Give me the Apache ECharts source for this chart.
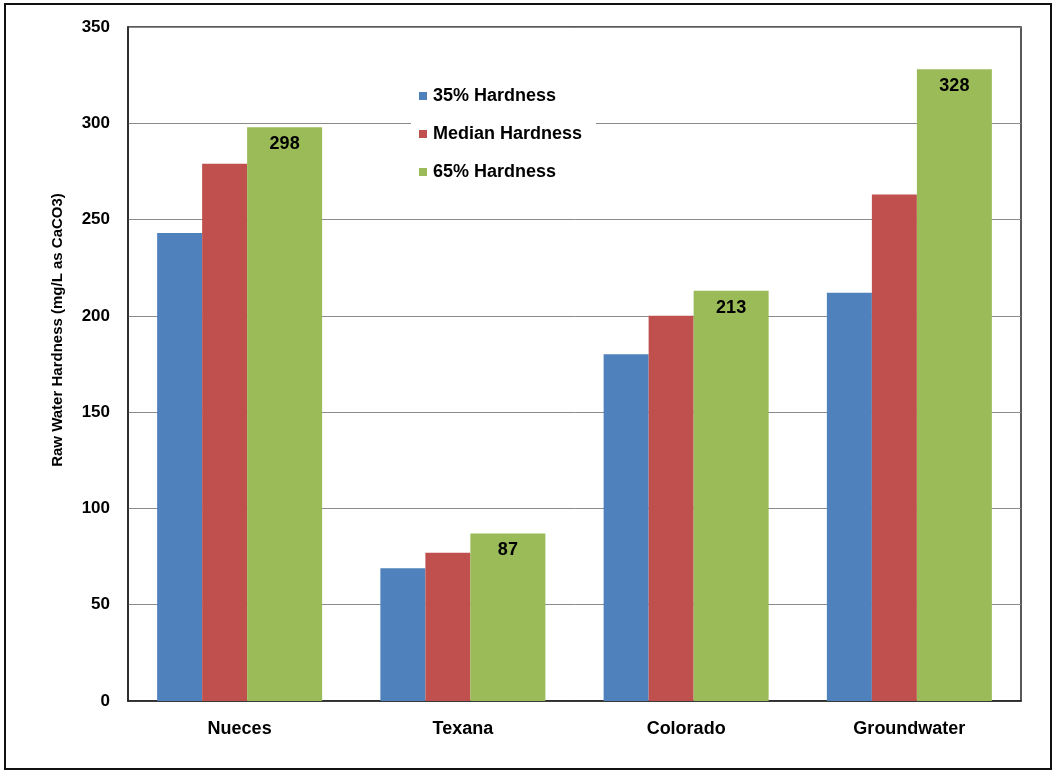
<!DOCTYPE html>
<html>
<head>
<meta charset="utf-8">
<script src="https://cdn.jsdelivr.net/npm/echarts@6/dist/echarts.min.js"></script>
<style>
  html, body { margin: 0; padding: 0; background: #fff; }
  #chart { width: 1055px; height: 771px; }
</style>
</head>
<body>
<div id="chart"></div>
<script>
// Raw water hardness by source (mg/L as CaCO3)
const categories = ['Nueces', 'Texana', 'Colorado', 'Groundwater'];
const hardness35 = [243, 69, 180, 212];
const hardnessMedian = [279, 77, 200, 263];
const hardness65 = [298, 87, 213, 328];
const seriesNames = ['35% Hardness', 'Median Hardness', '65% Hardness'];
const yTicks = { min: 0, max: 350, interval: 50 };
const yTitle = 'Raw Water Hardness (mg/L as CaCO3)';

const FONT = '"Liberation Sans", Arial, sans-serif';
const chart = echarts.init(document.getElementById('chart'));

chart.setOption({
  animation: false,
  backgroundColor: '#fff',
  textStyle: { fontFamily: FONT },
  graphic: [
    {
      // outer frame around the whole figure
      type: 'rect',
      shape: { x: 5, y: 4, width: 1046, height: 765 },
      style: { fill: 'none', stroke: '#111', lineWidth: 2 },
      silent: true,
      z: 100
    },
    {
      // value-axis title, rotated
      type: 'text',
      x: 58, y: 330,
      rotation: Math.PI / 2,
      style: {
        text: yTitle,
        fontFamily: FONT, fontWeight: 'bold', fontSize: 15, fill: '#000',
        align: 'center', verticalAlign: 'middle'
      },
      silent: true
    }
  ],
  grid: {
    left: 128, top: 27, right: 34, bottom: 70,
    show: true, borderColor: '#222', borderWidth: 1.5, backgroundColor: 'transparent'
  },
  legend: {
    orient: 'vertical',
    left: 411, top: 83,
    data: seriesNames,
    itemWidth: 8, itemHeight: 8, itemGap: 20,
    backgroundColor: '#fff',
    padding: [4, 14, 4, 8],
    icon: 'rect',
    textStyle: { fontFamily: FONT, fontWeight: 'bold', fontSize: 18, color: '#000', padding: [0, 0, 0, 1] }
  },
  xAxis: {
    type: 'category',
    data: categories,
    axisTick: { show: false },
    axisLine: { lineStyle: { color: '#222', width: 1.5 } },
    axisLabel: { fontFamily: FONT, fontWeight: 'bold', fontSize: 18, color: '#000', margin: 19 }
  },
  yAxis: {
    type: 'value',
    min: yTicks.min, max: yTicks.max, interval: yTicks.interval,
    axisLine: { show: true, lineStyle: { color: '#222', width: 1.5 } },
    axisTick: { show: false },
    axisLabel: { fontFamily: FONT, fontWeight: 'bold', fontSize: 17, color: '#000', margin: 18 },
    splitLine: { lineStyle: { color: '#8a8a8a', width: 1 } }
  },
  series: [
    {
      name: seriesNames[0], type: 'bar', data: hardness35,
      barWidth: 45, barGap: '0%',
      itemStyle: { color: '#4F81BD' }
    },
    {
      name: seriesNames[1], type: 'bar', data: hardnessMedian,
      barWidth: 45, barGap: '0%',
      itemStyle: { color: '#C0504D' }
    },
    {
      name: seriesNames[2], type: 'bar', data: hardness65,
      barWidth: 75, barGap: '0%',
      itemStyle: { color: '#9BBB59' },
      label: {
        show: true, position: 'insideTop', distance: 8,
        fontFamily: FONT, fontWeight: 'bold', fontSize: 18, color: '#000'
      }
    }
  ]
});
</script>
</body>
</html>
